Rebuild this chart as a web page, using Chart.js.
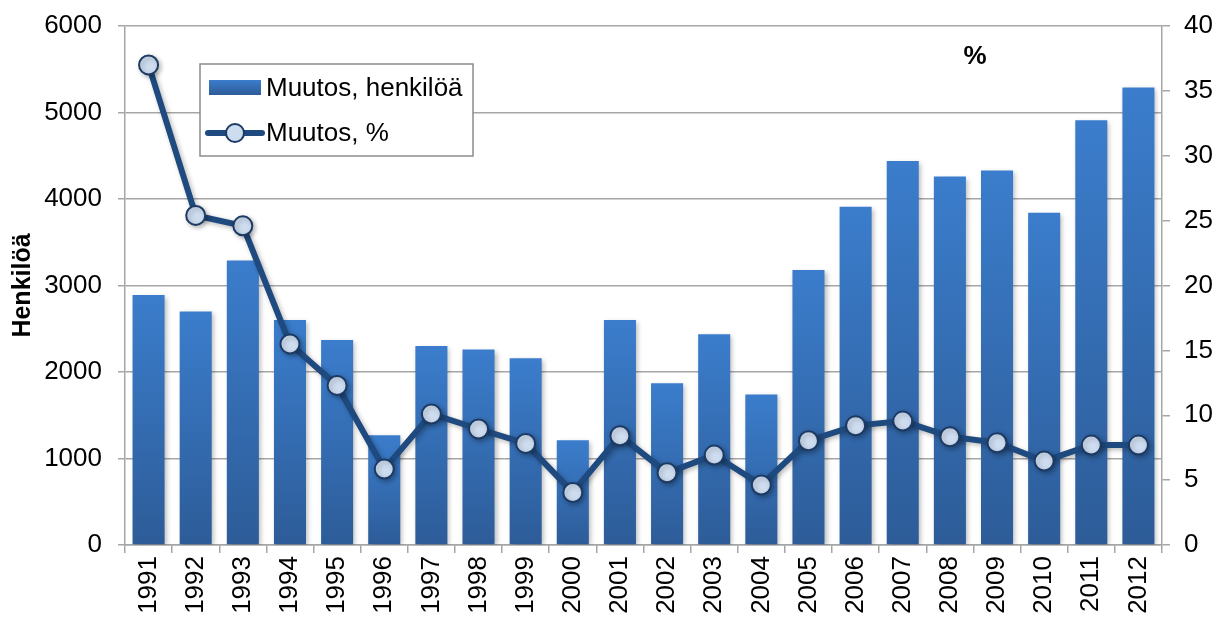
<!DOCTYPE html>
<html>
<head>
<meta charset="utf-8">
<script src="https://cdn.jsdelivr.net/npm/chart.js@4/dist/chart.umd.min.js"></script>
<style>
  html, body { margin: 0; padding: 0; background: #fff; }
  #wrap { width: 1223px; height: 621px; }
</style>
</head>
<body>
<div id="wrap"><canvas id="chart" width="1223" height="621"></canvas></div>
<script>
// Chart data
const years = ['1991', '1992', '1993', '1994', '1995', '1996', '1997', '1998', '1999', '2000', '2001',
               '2002', '2003', '2004', '2005', '2006', '2007', '2008', '2009', '2010', '2011', '2012'];
const changePersons = [2890, 2700, 3290, 2600, 2370, 1270, 2300, 2260, 2160, 1210, 2600,
                       1870, 2435, 1740, 3180, 3910, 4440, 4260, 4330, 3840, 4910, 5290];
const changePercent = [37.0, 25.4, 24.6, 15.5, 12.3, 5.85, 10.1, 8.94, 7.83, 4.05, 8.42,
                       5.57, 6.93, 4.62, 8.04, 9.2, 9.55, 8.35, 7.88, 6.47, 7.7, 7.7];
const labelPersons = 'Muutos, henkilöä';
const labelPercent = 'Muutos, %';

const FONT = '"Liberation Sans", Arial, sans-serif';
const GRID = '#a6a6a6';
const BAR_TOP = '#3b7dcc';
const BAR_BOTTOM = '#2d5c98';
const LINE = '#1f4a7f';
const POINT_FILL = '#cddcef';
const POINT_BORDER = '#1c3a63';

function barGradient(ctx, top, bottom) {
    const g = ctx.createLinearGradient(0, top, 0, bottom);
    g.addColorStop(0, BAR_TOP);
    g.addColorStop(1, BAR_BOTTOM);
    return g;
}

// soft drop shadow like the office chart
const shadowPlugin = {
    id: 'shadow',
    beforeDatasetDraw(chart) {
        const ctx = chart.ctx;
        ctx.save();
        ctx.shadowColor = 'rgba(0,0,0,0.28)';
        ctx.shadowBlur = 5;
        ctx.shadowOffsetX = 2;
        ctx.shadowOffsetY = 2;
    },
    afterDatasetDraw(chart) {
        chart.ctx.restore();
    }
};

// legend box inside the plot + "%" title
const legendPlugin = {
    id: 'boxLegend',
    afterDraw(chart) {
        const ctx = chart.ctx;
        ctx.save();
        ctx.fillStyle = '#fff';
        ctx.fillRect(200, 64, 273, 92);
        ctx.strokeStyle = '#8c8c8c';
        ctx.lineWidth = 1.5;
        ctx.strokeRect(200, 64, 273, 92);

        ctx.fillStyle = barGradient(ctx, 80, 95);
        ctx.fillRect(209, 80, 52, 15);

        ctx.strokeStyle = LINE;
        ctx.lineWidth = 6;
        ctx.lineCap = 'round';
        ctx.beginPath();
        ctx.moveTo(208, 133);
        ctx.lineTo(262, 133);
        ctx.stroke();
        ctx.beginPath();
        ctx.arc(235, 133, 9, 0, Math.PI * 2);
        ctx.fillStyle = POINT_FILL;
        ctx.fill();
        ctx.lineWidth = 2;
        ctx.strokeStyle = POINT_BORDER;
        ctx.stroke();

        ctx.fillStyle = '#000';
        ctx.font = '26px ' + FONT;
        ctx.textBaseline = 'middle';
        ctx.fillText(labelPersons, 266, 89);
        ctx.fillText(labelPercent, 266, 134);

        ctx.font = 'bold 26px ' + FONT;
        ctx.textAlign = 'center';
        ctx.fillText('%', 975, 57);
        ctx.restore();
    }
};

function fixVertical(width) {
    return function(scale) {
        scale.width = width;
        scale.paddingTop = 0;
        scale.paddingBottom = 0;
    };
}

document.addEventListener('DOMContentLoaded', function() {
    const ctx = document.getElementById('chart').getContext('2d');
    new Chart(ctx, {
        data: {
            labels: years,
            datasets: [{
                type: 'line',
                label: labelPercent,
                data: changePercent,
                yAxisID: 'y1',
                order: 1,
                borderColor: LINE,
                borderWidth: 6,
                tension: 0,
                pointRadius: 9.5,
                pointBackgroundColor: POINT_FILL,
                pointBorderColor: POINT_BORDER,
                pointBorderWidth: 2
            }, {
                type: 'bar',
                label: labelPersons,
                data: changePersons,
                yAxisID: 'y',
                order: 2,
                barPercentage: 0.68,
                categoryPercentage: 1,
                backgroundColor: function(context) {
                    const chart = context.chart;
                    if (!chart.chartArea || context.raw === undefined) return BAR_TOP;
                    const y = chart.scales.y;
                    return barGradient(chart.ctx, y.getPixelForValue(context.raw), y.getPixelForValue(0));
                }
            }]
        },
        options: {
            responsive: false,
            animation: false,
            layout: { padding: { top: 26, left: 0, right: 0, bottom: 0 } },
            plugins: {
                legend: { display: false },
                tooltip: { enabled: false }
            },
            scales: {
                x: {
                    offset: true,
                    afterFit(scale) {
                        scale.height = 76;
                        scale.paddingLeft = 0;
                        scale.paddingRight = 0;
                    },
                    grid: {
                        offset: true,
                        drawOnChartArea: false,
                        color: GRID,
                        lineWidth: 1.5,
                        tickLength: 8
                    },
                    border: { color: GRID, width: 1.5 },
                    ticks: {
                        color: '#000',
                        font: { family: FONT, size: 26 },
                        minRotation: 90,
                        maxRotation: 90,
                        padding: 3,
                        autoSkip: false
                    }
                },
                y: {
                    position: 'left',
                    min: 0,
                    max: 6000,
                    afterFit: fixVertical(125),
                    grid: {
                        color: GRID,
                        lineWidth: 1.5,
                        tickLength: 7
                    },
                    border: { color: GRID, width: 1.5 },
                    ticks: {
                        stepSize: 1000,
                        color: '#000',
                        padding: 16,
                        font: { family: FONT, size: 26 },
                        callback: v => String(v)
                    },
                    title: {
                        display: true,
                        text: 'Henkilöä',
                        color: '#000',
                        font: { family: FONT, size: 25, weight: 'bold' },
                        padding: { top: 8, bottom: 0 }
                    }
                },
                y1: {
                    position: 'right',
                    min: 0,
                    max: 40,
                    afterFit: fixVertical(61),
                    grid: {
                        drawOnChartArea: false,
                        color: GRID,
                        lineWidth: 1.5,
                        tickLength: 8
                    },
                    border: { color: GRID, width: 1.5 },
                    ticks: {
                        stepSize: 5,
                        color: '#000',
                        padding: 14,
                        font: { family: FONT, size: 26 }
                    }
                }
            }
        },
        plugins: [shadowPlugin, legendPlugin]
    });
});
</script>
</body>
</html>
